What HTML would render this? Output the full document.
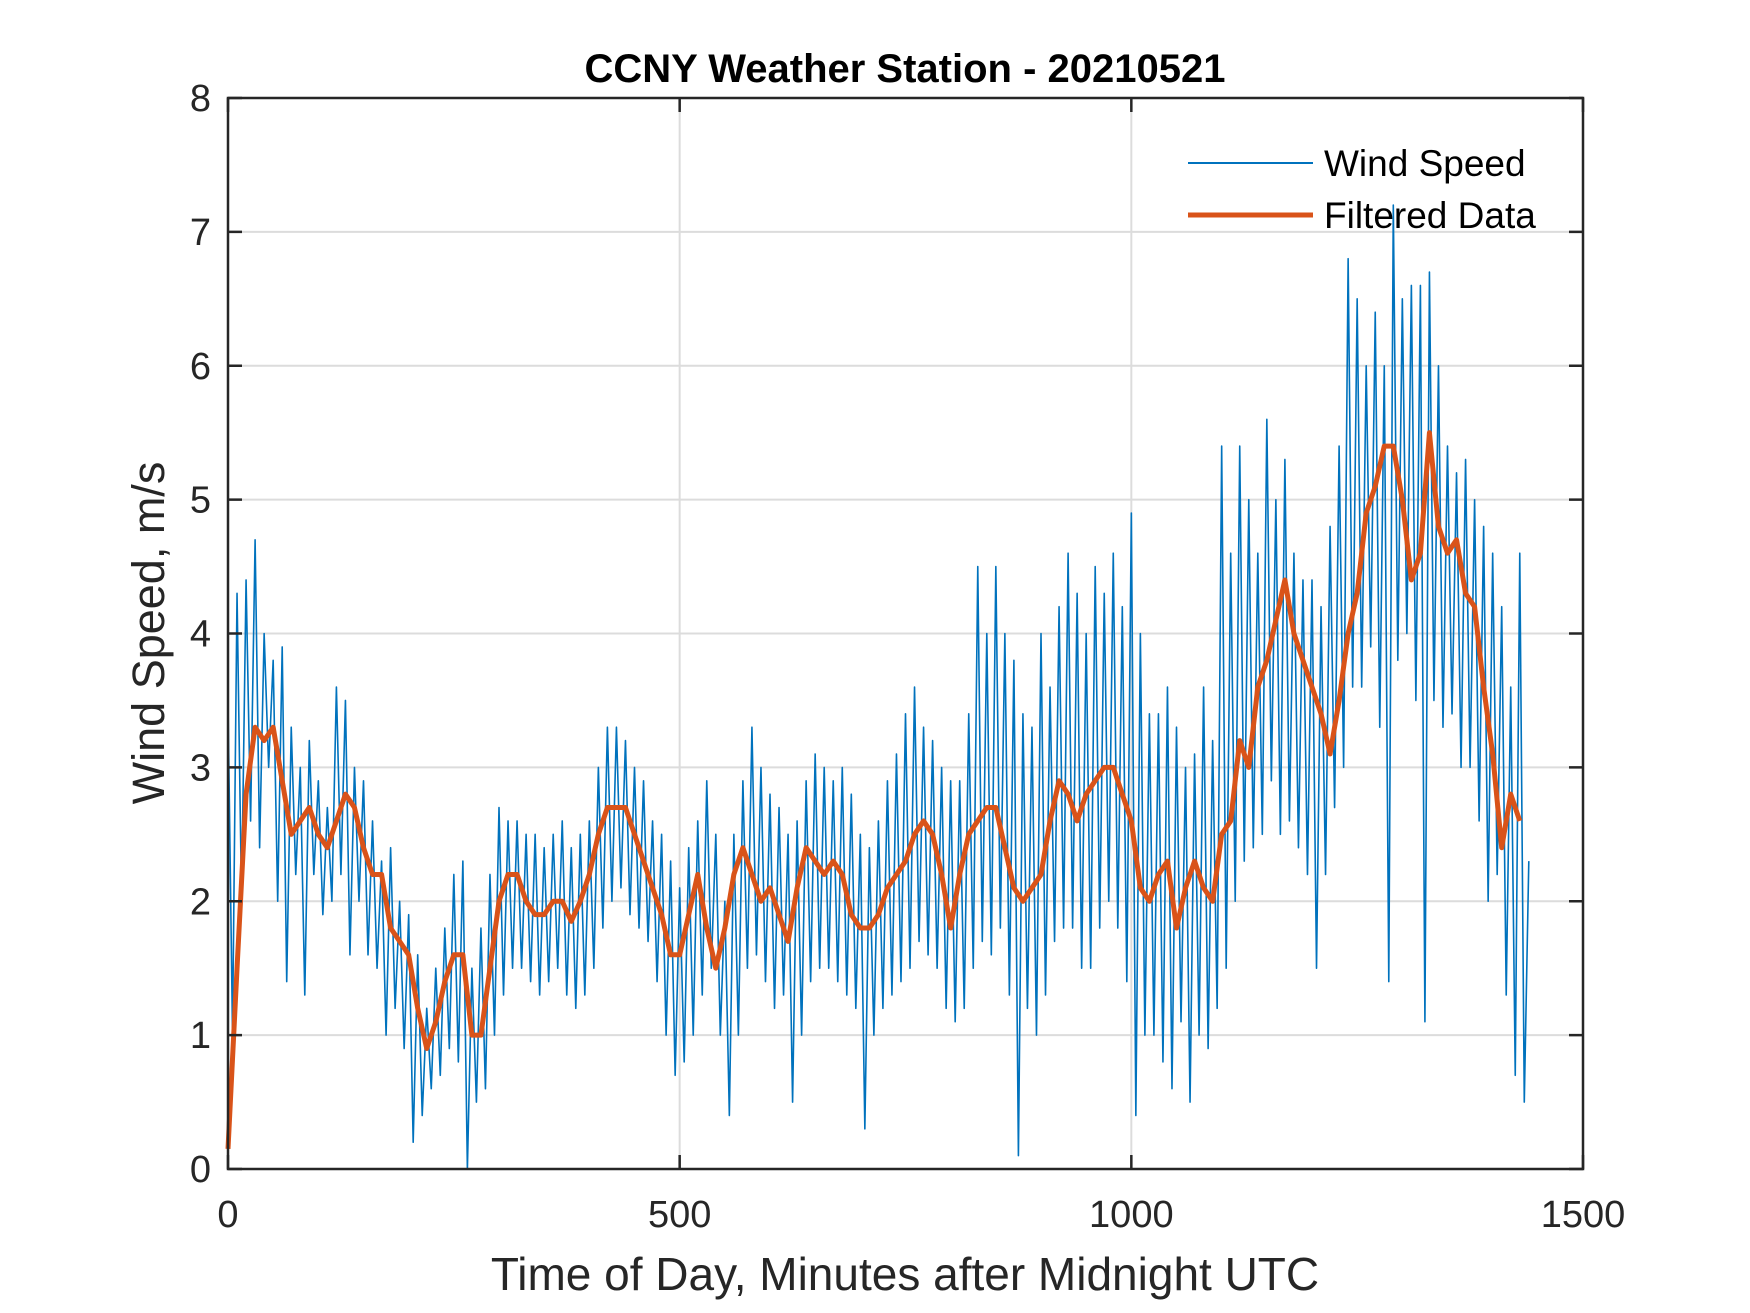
<!DOCTYPE html>
<html><head><meta charset="utf-8"><style>
html,body{margin:0;padding:0;background:#fff;}
svg{display:block;font-family:"Liberation Sans",Arial,sans-serif;}
</style></head><body>
<svg id="chart" width="1750" height="1313" viewBox="0 0 1750 1313" xmlns="http://www.w3.org/2000/svg">
<rect width="1750" height="1313" fill="#fff"/>
<g id="grid"></g>
<g id="series"></g>
<rect x="228" y="98" width="1355" height="1071" fill="none" stroke="#262626" stroke-width="2.5"/>
<g id="ticks"></g>
<text x="905" y="82" text-anchor="middle" font-size="40" font-weight="bold" fill="#000">CCNY Weather Station - 20210521</text>
<text x="905" y="1290" text-anchor="middle" font-size="46" fill="#262626">Time of Day, Minutes after Midnight UTC</text>
<text transform="translate(164,633) rotate(-90)" text-anchor="middle" font-size="45" fill="#262626">Wind Speed, m/s</text>
<g>
 <g>
  <line x1="1188" y1="163" x2="1313" y2="163" stroke="#0072BD" stroke-width="2"/>
  <text x="1324" y="176" font-size="37" fill="#000">Wind Speed</text>
 </g>
 <g>
  <line x1="1188" y1="215" x2="1313" y2="215" stroke="#D95319" stroke-width="5"/>
  <text x="1324" y="228" font-size="37" fill="#000">Filtered Data</text>
 </g>
</g>
</svg>
<script>
const xTicks=[0,500,1000,1500];
const yTicks=[0,1,2,3,4,5,6,7,8];
const windStep=5;
const windSpeed=[
3.5,1.0,4.3,2.0,4.4,2.6,4.7,2.4,4.0,3.0,
3.8,2.0,3.9,1.4,3.3,2.2,3.0,1.3,3.2,2.2,
2.9,1.9,2.7,2.0,3.6,2.2,3.5,1.6,3.0,2.0,
2.9,1.6,2.6,1.5,2.3,1.0,2.4,1.2,2.0,0.9,
1.9,0.2,1.6,0.4,1.2,0.6,1.5,0.7,1.8,0.9,
2.2,0.8,2.3,0.0,1.5,0.5,1.8,0.6,2.2,1.0,
2.7,1.3,2.6,1.5,2.6,1.5,2.5,1.4,2.5,1.3,
2.4,1.4,2.5,1.5,2.6,1.3,2.4,1.2,2.5,1.3,
2.6,1.5,3.0,1.8,3.3,2.0,3.3,2.1,3.2,1.9,
3.0,1.8,2.9,1.7,2.6,1.4,2.5,1.0,2.3,0.7,
2.1,0.8,2.4,1.0,2.6,1.3,2.9,1.5,2.5,1.0,
2.0,0.4,2.5,1.0,2.9,1.5,3.3,1.6,3.0,1.4,
2.8,1.2,2.7,1.3,2.5,0.5,2.6,1.0,2.9,1.4,
3.1,1.5,3.0,1.5,2.9,1.4,3.0,1.3,2.8,1.2,
2.5,0.3,2.4,1.0,2.6,1.2,2.9,1.3,3.1,1.4,
3.4,1.5,3.6,1.7,3.3,1.6,3.2,1.5,3.0,1.2,
2.9,1.1,2.9,1.2,3.4,1.5,4.5,1.7,4.0,1.6,
4.5,1.8,4.0,1.3,3.8,0.1,3.4,1.2,3.3,1.0,
4.0,1.3,3.6,1.7,4.2,1.8,4.6,1.8,4.3,1.5,
4.0,1.5,4.5,1.8,4.3,2.0,4.6,1.8,4.2,1.4,
4.9,0.4,4.0,1.0,3.4,1.0,3.4,0.8,3.6,0.6,
3.3,1.1,3.0,0.5,3.1,1.0,3.6,0.9,3.2,1.2,
5.4,1.5,4.6,2.0,5.4,2.3,5.0,2.4,4.6,2.5,
5.6,2.9,5.0,2.5,5.3,2.6,4.6,2.4,4.4,2.2,
4.4,1.5,4.2,2.2,4.8,2.7,5.4,3.0,6.8,3.6,
6.5,3.6,6.0,3.9,6.4,3.3,6.0,1.4,7.2,3.8,
6.5,4.0,6.6,3.5,6.6,1.1,6.7,3.5,6.0,3.3,
5.4,3.4,5.2,3.0,5.3,3.0,5.0,2.6,4.8,2.0,
4.6,2.2,4.2,1.3,3.6,0.7,4.6,0.5,2.3];
const filteredStep=10;
const filtered=[
0.15,1.5,2.8,3.3,3.2,3.3,2.9,2.5,2.6,2.7,
2.5,2.4,2.6,2.8,2.7,2.4,2.2,2.2,1.8,1.7,
1.6,1.2,0.9,1.1,1.4,1.6,1.6,1.0,1.0,1.5,
2.0,2.2,2.2,2.0,1.9,1.9,2.0,2.0,1.85,2.0,
2.2,2.5,2.7,2.7,2.7,2.5,2.3,2.1,1.9,1.6,
1.6,1.9,2.2,1.8,1.5,1.8,2.2,2.4,2.2,2.0,
2.1,1.9,1.7,2.1,2.4,2.3,2.2,2.3,2.2,1.9,
1.8,1.8,1.9,2.1,2.2,2.3,2.5,2.6,2.5,2.2,
1.8,2.2,2.5,2.6,2.7,2.7,2.4,2.1,2.0,2.1,
2.2,2.6,2.9,2.8,2.6,2.8,2.9,3.0,3.0,2.8,
2.6,2.1,2.0,2.2,2.3,1.8,2.1,2.3,2.1,2.0,
2.5,2.6,3.2,3.0,3.6,3.8,4.1,4.4,4.0,3.8,
3.6,3.4,3.1,3.5,4.0,4.3,4.9,5.1,5.4,5.4,
5.0,4.4,4.6,5.5,4.8,4.6,4.7,4.3,4.2,3.6,
3.1,2.4,2.8,2.6];
const X0=228,X1=1583,Y0=1169,Y1=98;
const xs=v=>X0+(v-0)/(1500-0)*(X1-X0);
const ys=v=>Y0-(v-0)/(8-0)*(Y0-Y1);
const NS="http://www.w3.org/2000/svg";
const grid=document.getElementById('grid'),ticks=document.getElementById('ticks'),series=document.getElementById('series');
function mk(tag,attrs,parent){const e=document.createElementNS(NS,tag);for(const k in attrs)e.setAttribute(k,attrs[k]);parent.appendChild(e);return e;}
xTicks.forEach(t=>{
 const x=xs(t);
 if(t>0&&t<1500){const g=mk('line',{x1:x,y1:Y1,x2:x,y2:Y0,stroke:'#dcdcdc','stroke-width':2},grid);
  
  }
 mk('line',{x1:x,y1:Y0,x2:x,y2:Y0-14,stroke:'#262626','stroke-width':2.5},ticks);
 mk('line',{x1:x,y1:Y1,x2:x,y2:Y1+14,stroke:'#262626','stroke-width':2.5},ticks);
 const l=mk('text',{x:x,y:Y0+58,'text-anchor':'middle','font-size':38,fill:'#262626'},ticks);
 l.textContent=t;
 
 
});
yTicks.forEach(t=>{
 const y=ys(t);
 if(t>0&&t<8){const g=mk('line',{x1:X0,y1:y,x2:X1,y2:y,stroke:'#dcdcdc','stroke-width':2},grid);
  
  }
 mk('line',{x1:X0,y1:y,x2:X0+14,y2:y,stroke:'#262626','stroke-width':2.5},ticks);
 mk('line',{x1:X1,y1:y,x2:X1-14,y2:y,stroke:'#262626','stroke-width':2.5},ticks);
 const l=mk('text',{x:X0-17,y:y+13,'text-anchor':'end','font-size':38,fill:'#262626'},ticks);
 l.textContent=t;
 
 
});
const p1=mk('polyline',{points:windSpeed.map((v,i)=>xs(i*windStep)+','+ys(v)).join(' '),fill:'none',stroke:'#0072BD','stroke-width':1.6,'stroke-linejoin':'round'},series);


const p2=mk('polyline',{points:filtered.map((v,i)=>xs(i*filteredStep)+','+ys(v)).join(' '),fill:'none',stroke:'#D95319','stroke-width':5,'stroke-linejoin':'round'},series);


</script>
</body></html>
